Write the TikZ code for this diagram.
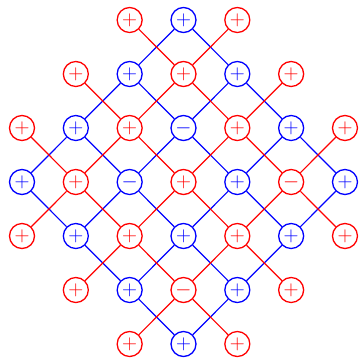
\documentclass[tikz,border=0pt]{standalone}
\begin{document}
\begin{tikzpicture}[x=1pt,y=-1pt,
  rn/.style={circle,draw=red,text=red,line width=1.3pt,minimum size=25pt,inner sep=0pt,font=\fontsize{21}{21}\selectfont},
  bn/.style={circle,draw=blue,text=blue,line width=1.3pt,minimum size=25pt,inner sep=0pt,font=\fontsize{21}{21}\selectfont},
  re/.style={draw=red,line width=1.2pt},
  be/.style={draw=blue,line width=1.2pt}]
\useasboundingbox (0,0) rectangle (361,357);
% nodes n<r><c>
\foreach \r/\c in {0/2,0/4,1/1,1/3,1/5,2/0,2/2,2/4,2/6,3/1,3/3,4/0,4/2,4/4,4/6,5/1,5/5,6/2,6/4}
  \node[rn] (n\r\c) at ({22+53.83*\c},{20+54*\r}) {$+$};
\foreach \r/\c in {3/5,5/3}
  \node[rn] (n\r\c) at ({22+53.83*\c},{20+54*\r}) {$-$};
\foreach \r/\c in {0/3,1/2,1/4,2/1,2/5,3/0,3/4,3/6,4/1,4/3,4/5,5/2,5/4,6/3}
  \node[bn] (n\r\c) at ({22+53.83*\c},{20+54*\r}) {$+$};
\foreach \r/\c in {2/3,3/2}
  \node[bn] (n\r\c) at ({22+53.83*\c},{20+54*\r}) {$-$};
% blue edges
\foreach \a/\b in {03/12,03/14,12/21,12/23,14/23,14/25,21/30,21/32,23/32,23/34,25/34,25/36,
  30/41,32/41,32/43,34/43,34/45,36/45,41/52,43/52,43/54,45/54,52/63,54/63}
  \draw[be] (n\a) -- (n\b);
% red edges
\foreach \a/\b in {02/13,04/13,11/22,15/24,20/31,26/35,40/31,46/35,51/42,55/44,62/53,64/53,
  13/22,13/24,22/31,22/33,24/33,24/35,31/42,33/42,33/44,35/44,42/53,44/53}
  \draw[re] (n\a) -- (n\b);
\end{tikzpicture}
\end{document}
